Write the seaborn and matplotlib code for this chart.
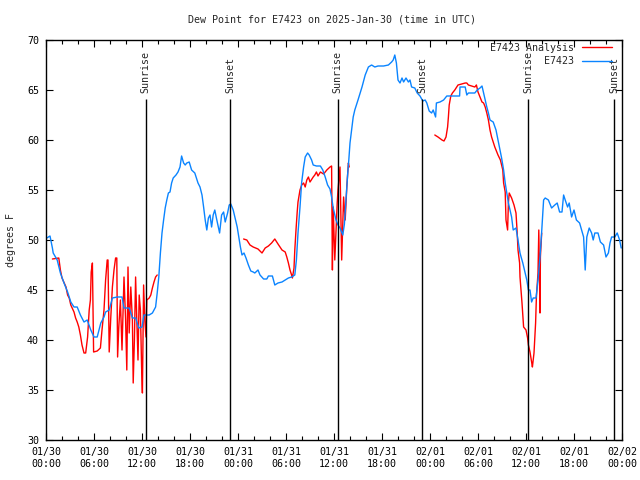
import numpy as np
import pandas as pd
import matplotlib
matplotlib.use("Agg")
import matplotlib.pyplot as plt
import matplotlib.dates as mdates
from matplotlib.lines import Line2D
import seaborn as sns

START = pd.Timestamp("2025-01-30 00:00")

# E7423 observations (hours after start, deg F)
blue_hours = [
    0.1, 0.5, 0.8, 0.9, 1.4, 1.8, 2.25, 2.7, 3.1, 3.5, 3.9, 4.3, 4.75, 5.15, 5.6, 6.0, 6.4,
    6.85, 7.25, 7.45, 7.9, 8.3, 8.9, 9.5, 9.75, 10.4, 10.8, 11.2, 11.6, 12.0, 12.25, 12.9,
    13.3, 13.7, 13.9, 14.1, 14.3, 14.5, 14.7, 14.9, 15.1, 15.3, 15.5, 15.7, 15.9, 16.25,
    16.5, 16.75, 16.95, 17.2, 17.4, 17.6, 17.9, 18.2, 18.6, 19.0, 19.25, 19.5, 19.7, 19.9,
    20.1, 20.3, 20.5, 20.7, 20.9, 21.1, 21.3, 21.7, 21.95, 22.2, 22.4, 22.7, 22.9, 23.1,
    23.4, 23.7, 23.9, 24.1, 24.3, 24.5, 24.75, 25.0, 25.3, 25.6, 25.9, 26.1, 26.5, 26.75,
    27.2, 27.6, 27.8, 28.3, 28.6, 29.0, 29.5, 29.9, 30.3, 30.7, 31.1, 31.3, 31.5, 31.75,
    31.95, 32.2, 32.4, 32.7, 32.9, 33.2, 33.4, 33.8, 34.3, 34.6, 34.9, 35.2, 35.5, 35.7,
    35.9, 36.25, 36.5, 36.75, 37.1, 37.3, 37.5, 37.7, 37.85, 38.0, 38.2, 38.4, 38.6, 39.0,
    39.5, 39.9, 40.3, 40.7, 41.1, 41.5, 42.2, 42.8, 43.2, 43.4, 43.6, 43.8, 44.0, 44.25,
    44.5, 44.7, 45.0, 45.3, 45.5, 45.7, 46.1, 46.4, 46.75, 47.1, 47.4, 47.6, 47.9, 48.2,
    48.4, 48.7, 48.8, 49.25, 49.7, 50.1, 50.9, 51.7, 51.75, 52.4, 52.6, 52.8, 53.6, 53.9,
    54.25, 54.5, 54.7, 54.9, 55.1, 55.3, 55.5, 55.9, 56.25, 56.5, 56.75, 56.95, 57.2, 57.4,
    57.6, 57.8, 58.0, 58.2, 58.4, 58.75, 59.0, 59.25, 59.6, 59.9, 60.1, 60.3, 60.5, 60.7,
    60.9, 61.25, 61.5, 61.75, 61.95, 62.2, 62.4, 62.8, 63.2, 63.6, 63.9, 64.2, 64.5, 64.7,
    64.9, 65.2, 65.4, 65.7, 66.0, 66.3, 66.7, 66.95, 67.2, 67.4, 67.6, 67.9, 68.2, 68.4,
    68.6, 69.0, 69.3, 69.7, 70.0, 70.3, 70.5, 70.7, 71.1, 71.4, 71.7, 71.9,
]
blue_vals = [
    50.2, 50.4, 49.2, 48.7, 48.0, 46.7, 45.7, 44.8, 43.8, 43.3, 43.3, 42.5, 41.8, 42.0, 41.0, 40.3, 40.3,
    41.7, 42.3, 42.8, 43.0, 44.2, 44.3, 44.3, 43.2, 43.2, 42.2, 42.2, 41.2, 41.3, 42.5, 42.5,
    42.7, 43.3, 44.7, 46.3, 48.7, 50.7, 52.0, 53.2, 54.0, 54.7, 54.8, 55.7, 56.2, 56.5,
    56.8, 57.3, 58.4, 57.7, 57.5, 57.7, 57.8, 57.0, 56.7, 55.7, 55.3, 54.5, 53.3, 52.0,
    51.0, 52.2, 52.5, 51.3, 52.5, 53.0, 52.2, 50.7, 52.5, 52.8, 51.8, 52.7, 53.5, 53.6,
    53.0, 52.0, 51.3, 50.3, 49.3, 48.5, 48.7, 48.2, 47.5, 46.9, 46.8, 46.7, 47.0, 46.5,
    46.1, 46.1, 46.4, 46.4, 45.5, 45.7, 45.8, 46.0, 46.2, 46.3, 46.5, 48.0, 50.7, 53.3,
    55.7, 57.3, 58.3, 58.7, 58.5, 58.0, 57.5, 57.4, 57.4, 57.0, 56.3, 55.5, 55.1, 54.3,
    53.2, 52.0, 51.5, 51.2, 50.5, 51.6, 54.0, 56.5, 58.0, 59.7, 61.0, 62.3, 63.0, 64.0,
    65.3, 66.5, 67.3, 67.5, 67.3, 67.4, 67.4, 67.5, 67.8, 68.0, 68.5, 67.7, 66.0, 65.7,
    66.2, 65.8, 66.2, 65.8, 66.0, 65.3, 65.2, 64.7, 64.4, 63.9, 64.0, 63.7, 62.9, 62.7,
    63.0, 62.3, 63.7, 63.8, 64.0, 64.4, 64.4, 64.4, 65.3, 65.3, 64.5, 64.7, 64.7, 65.0,
    65.2, 65.4, 64.7, 64.0, 63.3, 62.7, 62.0, 61.8, 61.0, 60.0, 59.0, 58.2, 57.0, 55.7,
    54.7, 53.7, 53.0, 52.3, 51.0, 51.2, 50.0, 48.7, 47.7, 46.7, 46.0, 45.0, 45.0, 43.8,
    44.2, 44.2, 46.0, 48.3, 50.7, 54.0, 54.2, 54.0, 53.2, 53.5, 53.7, 52.8, 52.8, 54.5,
    54.0, 53.3, 53.7, 52.3, 53.0, 52.0, 51.7, 51.0, 50.3, 47.0, 50.3, 51.2, 50.7, 50.0,
    50.7, 50.7, 49.8, 49.5, 48.3, 48.7, 49.7, 50.3, 50.3, 50.7, 50.0, 49.2,
]

# E7423 analysis (NaN marks a gap)
red_hours = [
    0.8, 1.6, 1.8, 2.0, 2.5, 2.7, 2.9, 3.1, 3.5, 3.7, 3.9, 4.1, 4.3, 4.5, 4.75, 4.96, 5.2,
    5.4, 5.55, 5.65, 5.8, 5.95, 6.4, 6.8, 7.0, 7.25, 7.45, 7.65, 7.75, 7.9, 8.1, 8.3, 8.5,
    8.7, 8.85, 8.95, 9.1, 9.3, 9.5, 9.75, 9.95, 10.1, 10.25, 10.4, 10.6, 10.8, 10.9, 11.05,
    11.2, 11.35, 11.5, 11.65, 11.8, 11.95, 12.05, 12.2, 12.35, 12.5, 12.6, 12.9, 13.1,
    13.3, 13.5, 13.7, 13.9,
    np.nan,
    24.7, 25.1, 25.5, 25.9, 26.5, 27.0, 27.4, 27.8, 28.2, 28.6, 29.0, 29.5, 29.9, 30.1,
    30.3, 30.5, 30.7, 30.8, 31.0, 31.1, 31.25, 31.4, 31.5, 31.75, 31.96, 32.2, 32.4, 32.6,
    32.8, 33.0, 33.4, 33.6, 33.8, 34.0, 34.3, 34.7, 35.1, 35.5, 35.7, 35.8, 35.9, 36.1,
    36.4, 36.5, 36.75, 36.96, 37.2, 37.4, 37.6, 37.8, 37.9,
    np.nan,
    48.6, 49.0, 49.5, 49.75, 50.0, 50.2, 50.3, 50.4, 50.6, 50.8, 51.1, 51.5, 51.96, 52.4,
    52.6, 52.8, 53.2, 53.6, 53.8, 54.0, 54.25, 54.5, 54.7, 54.9, 55.1, 55.3, 55.5, 55.7,
    55.9, 56.1, 56.5, 56.8, 57.1, 57.2, 57.4, 57.5, 57.7, 57.8, 57.9, 58.2, 58.5, 58.75,
    58.9, 59.0, 59.2, 59.25, 59.5, 59.7, 60.0, 60.2, 60.3, 60.5, 60.7, 60.8, 61.0, 61.2,
    61.3, 61.5, 61.6, 61.75, 61.8, 61.96,
]
red_vals = [
    48.1, 48.2, 47.0, 46.2, 45.3, 44.5, 44.2, 43.5, 42.8, 42.2, 41.8, 41.3, 40.5, 39.5, 38.7, 38.7, 40.3,
    43.0, 44.0, 46.8, 47.7, 38.8, 38.9, 39.2, 41.0, 43.0, 46.0, 48.0, 48.0, 38.8, 42.3, 45.3, 47.0,
    48.2, 48.2, 38.3, 41.3, 44.0, 39.0, 46.3, 42.0, 37.0, 47.3, 40.7, 45.3, 42.0, 35.7, 40.0,
    46.3, 42.0, 38.0, 44.5, 43.0, 37.3, 34.7, 45.5, 42.0, 40.3, 44.0, 44.2, 44.5,
    45.2, 45.8, 46.3, 46.5,
    np.nan,
    50.1, 50.0, 49.5, 49.3, 49.1, 48.7, 49.2, 49.4, 49.7, 50.1, 49.6, 49.0, 48.8, 48.3,
    47.7, 47.0, 46.5, 46.2, 47.2, 49.0, 51.0, 52.8, 53.8, 55.0, 55.5, 55.7, 55.3, 56.0,
    56.3, 55.8, 56.3, 56.5, 56.8, 56.4, 56.8, 56.6, 57.0, 57.3, 57.4, 47.0, 53.3, 48.0,
    53.7, 55.0, 57.3, 48.0, 54.3, 52.0, 55.3, 57.7, 57.3,
    np.nan,
    60.5, 60.3, 60.0, 59.9, 60.3, 61.3, 62.3, 63.5, 64.4, 64.7, 65.0, 65.5, 65.6, 65.7,
    65.7, 65.5, 65.4, 65.3, 65.5, 64.8, 64.3, 63.8, 63.7, 63.3, 62.7, 62.0, 61.0, 60.3,
    59.8, 59.3, 58.5, 58.0, 57.0, 55.7, 54.8, 52.0, 51.0, 53.7, 54.7, 54.2, 53.5, 52.7,
    50.7, 49.0, 47.7, 46.3, 43.7, 41.3, 41.0, 40.2, 39.5, 38.8, 37.8, 37.3, 38.7, 41.7,
    44.3, 46.7, 51.0, 42.7, 48.3, 50.7,
]

sunrise_hours = [12.45, 36.45, 60.3]
sunset_hours = [23.04, 47.04, 71.04]

RED = "#ff0000"
BLUE = "#0a84ff"

blue = pd.DataFrame({"time": START + pd.to_timedelta(blue_hours, unit="h"), "dew": blue_vals})
red = pd.DataFrame({"hours": red_hours, "dew": red_vals})
red["seg"] = red["hours"].isna().cumsum()
red = red.dropna()
red["time"] = START + pd.to_timedelta(red["hours"], unit="h")

sns.set_style("ticks")
plt.rcParams["font.family"] = ["DejaVu Sans Mono"]
FS = 7.2

fig = plt.figure(figsize=(6.4, 4.8), dpi=100)
ax = fig.add_axes([46 / 640, 40 / 480, 576 / 640, 400 / 480])

sns.lineplot(data=red, x="time", y="dew", units="seg", estimator=None,
             color=RED, lw=1.0, ax=ax, legend=False)
sns.lineplot(data=blue, x="time", y="dew", color=BLUE, lw=1.0, ax=ax, legend=False)

for hrs, name in [(sunrise_hours, "Sunrise"), (sunset_hours, "Sunset")]:
    for h in hrs:
        t = START + pd.Timedelta(hours=h)
        ax.vlines(t, 30, 64.1, color="black", lw=1.0)
        ax.text(t, 64.7, name, rotation=90, ha="center", va="bottom", fontsize=FS)

ax.set_xlim(START, START + pd.Timedelta(hours=72))
ax.set_ylim(30, 70)
ax.set_yticks(np.arange(30, 71, 5))
ax.xaxis.set_major_locator(mdates.HourLocator(byhour=range(0, 24, 6)))
ax.xaxis.set_minor_locator(mdates.HourLocator(byhour=range(0, 24, 2)))
ax.xaxis.set_major_formatter(mdates.DateFormatter("%m/%d\n%H:%M"))
ax.tick_params(which="both", direction="in", top=True, right=True, labelsize=FS,
               width=0.8, color="black", labelcolor="black")
ax.tick_params(which="major", length=5, pad=5)
ax.tick_params(which="minor", length=3)
for s in ax.spines.values():
    s.set_linewidth(1.0)
    s.set_color("black")

ax.set_xlabel("")
ax.set_ylabel("degrees F", fontsize=FS, labelpad=8)
fig.text(332 / 640, 1 - 19 / 480, "Dew Point for E7423 on 2025-Jan-30 (time in UTC)",
         ha="center", va="center", fontsize=FS)

handles = [Line2D([], [], color=RED, lw=1.0), Line2D([], [], color=BLUE, lw=1.0)]
ax.legend(handles, ["E7423 Analysis", "E7423"], loc="upper right",
          bbox_to_anchor=(1 - 10 / 576, 1 - 3 / 400), frameon=False,
          markerfirst=False, fontsize=FS, handlelength=3.0, handletextpad=0.8,
          labelspacing=0.35, borderaxespad=0, borderpad=0)

fig.savefig("out.png", dpi=100)
